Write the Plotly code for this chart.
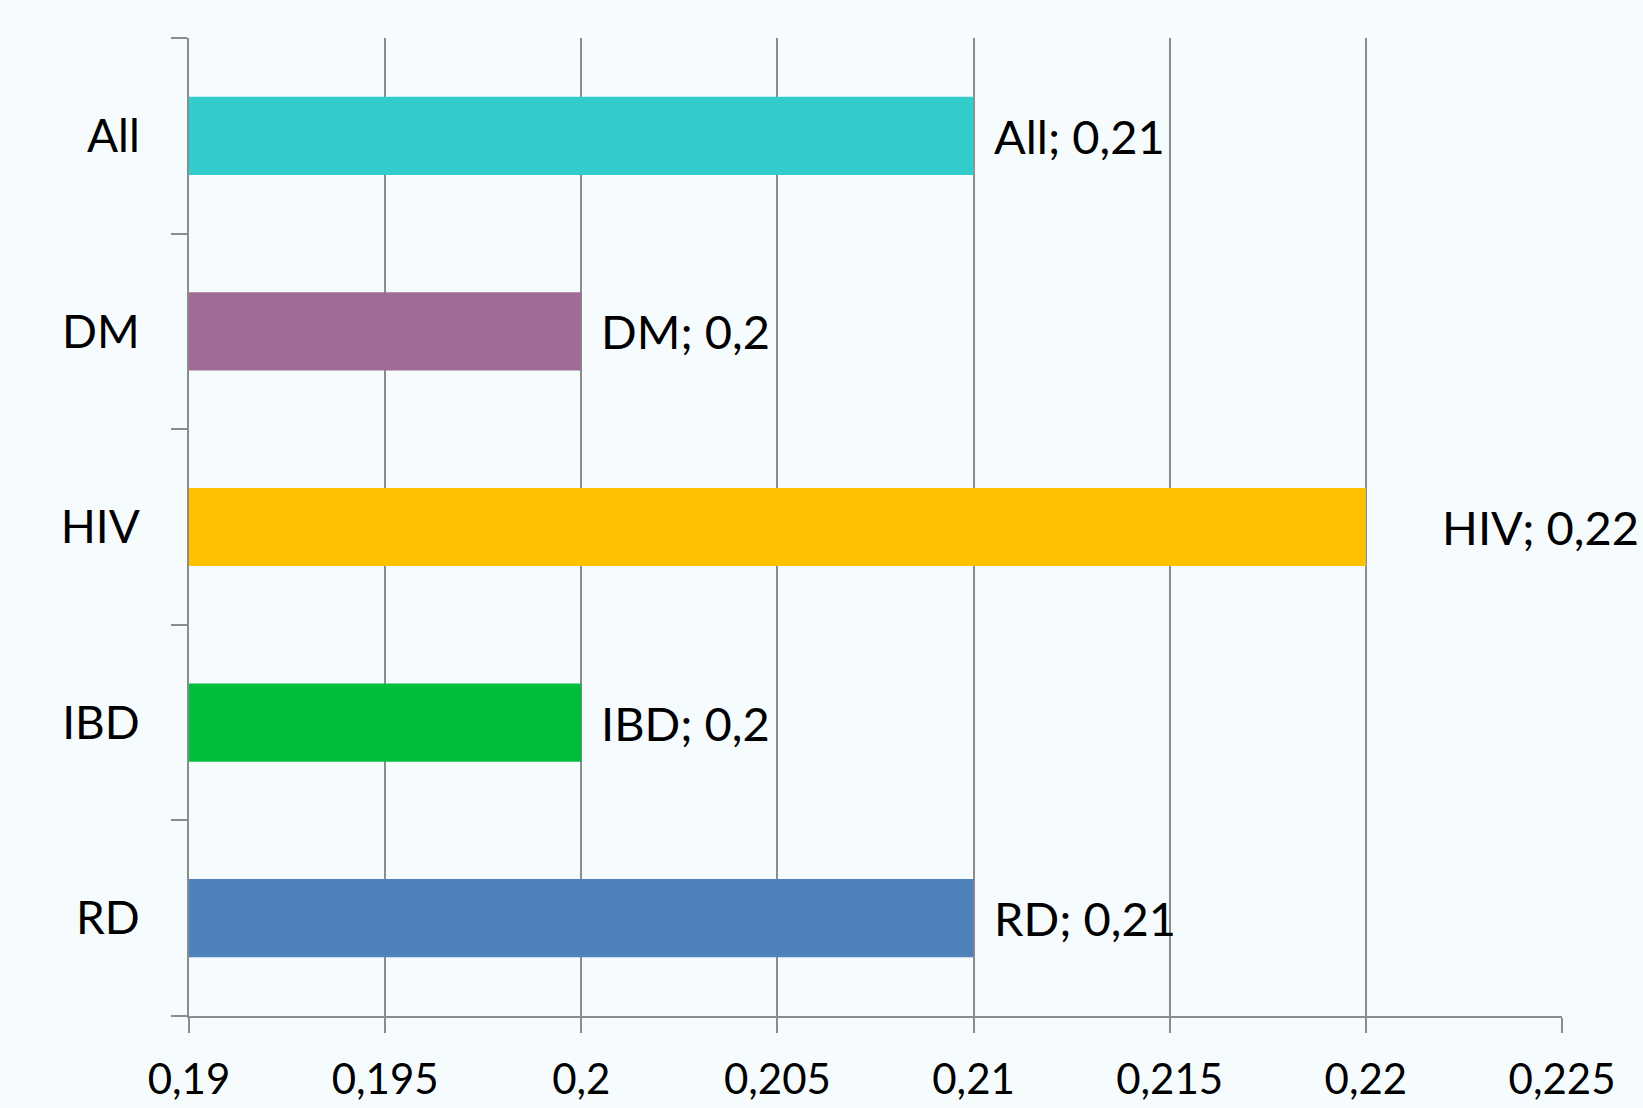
import plotly.graph_objects as go

# Chart data
categories = ["All", "DM", "HIV", "IBD", "RD"]
values = [0.21, 0.2, 0.22, 0.2, 0.21]
bar_colors = ["#33CCCC", "#A06C95", "#FFC000", "#00BE3C", "#4F81BD"]
label_shift = [18, 18, 74, 18, 18]

x_start, x_end, x_step = 0.19, 0.225, 0.005

FONT = "Lato"
GRID = "#8C8C8C"
BG = "#F6FCFD"


def fmt(v):
    return f"{v:g}".replace(".", ",")


fig = go.Figure()
fig.add_trace(
    go.Bar(
        y=categories,
        x=values,
        orientation="h",
        marker=dict(color=bar_colors, line=dict(width=0)),
        showlegend=False,
        hoverinfo="skip",
    )
)

for cat, v, dx in zip(categories, values, label_shift):
    fig.add_annotation(
        x=v,
        y=cat,
        text=f"{cat}; {fmt(v)}",
        showarrow=False,
        xanchor="left",
        yanchor="middle",
        xshift=dx,
        yshift=0,
        font=dict(family=FONT, size=47, color="#000000"),
    )

fig.update_layout(
    width=1643,
    height=1108,
    margin=dict(l=189, r=81, t=38, b=92),
    paper_bgcolor=BG,
    plot_bgcolor=BG,
    bargap=0.6,
    separators=", ",
    font=dict(family=FONT, color="#000000"),
)

fig.update_xaxes(
    range=[x_start, x_end],
    tick0=x_start,
    dtick=x_step,
    automargin=False,
    showgrid=True,
    gridcolor=GRID,
    gridwidth=2,
    zeroline=False,
    showline=True,
    linecolor=GRID,
    linewidth=2,
    ticks="outside",
    ticklen=15,
    tickwidth=2,
    tickcolor=GRID,
    ticklabelstandoff=11,
    tickfont=dict(family=FONT, size=42, color="#000000"),
)

fig.update_yaxes(
    categoryorder="array",
    categoryarray=categories[::-1],
    tickson="boundaries",
    automargin=False,
    showgrid=False,
    showline=True,
    linecolor=GRID,
    linewidth=2,
    ticks="outside",
    ticklen=16,
    tickwidth=2,
    tickcolor=GRID,
    ticklabelstandoff=38,
    tickfont=dict(family=FONT, size=46, color="#000000"),
)

fig.write_html("out.html")
